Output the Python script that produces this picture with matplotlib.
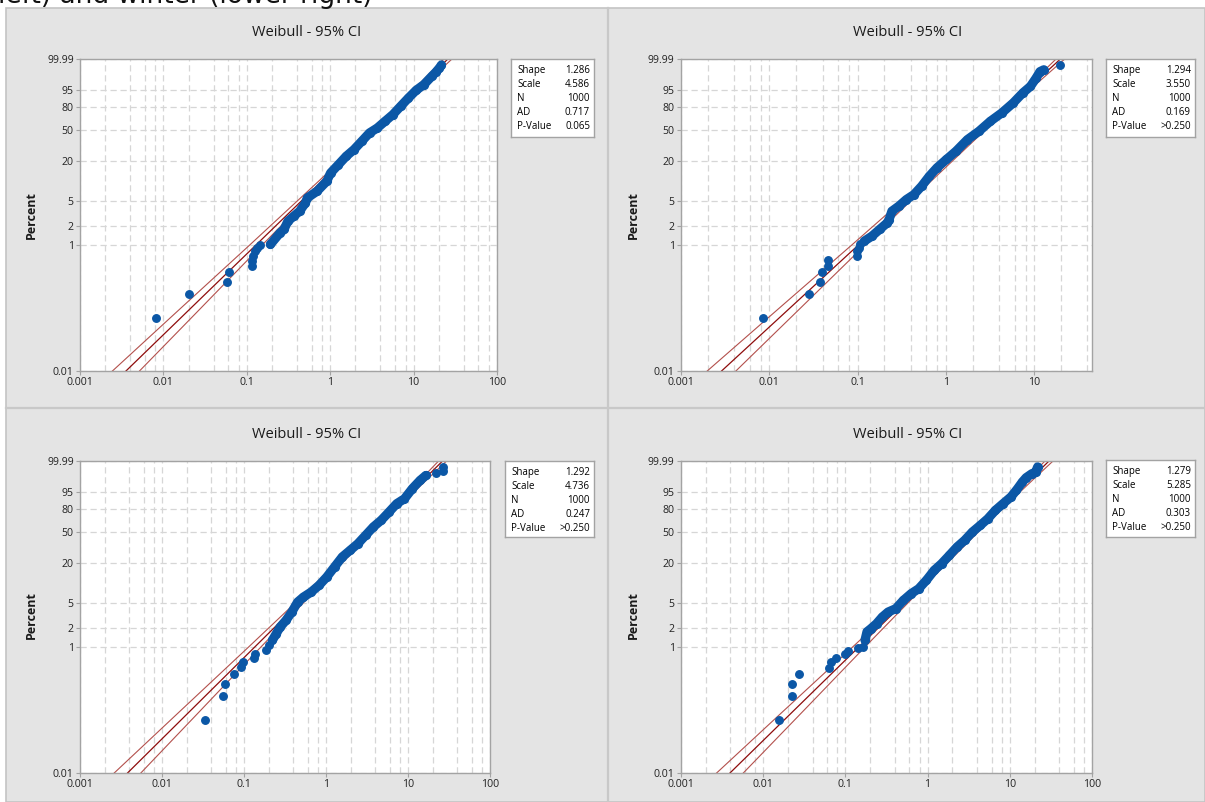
import numpy as np
import matplotlib
matplotlib.use("Agg")
import matplotlib.pyplot as plt
from matplotlib.patches import Rectangle
from matplotlib.lines import Line2D
from matplotlib.ticker import FixedLocator, FixedFormatter, LogLocator, NullLocator, NullFormatter

W, H = 1205, 802

# ---- data (x value, percent) ----
TL_OUT_X = [0.0081, 0.0204, 0.0577, 0.061, 0.115, 0.116, 0.118, 0.125, 0.132, 0.144]
TL_OUT_P = [0.07, 0.17, 0.26, 0.37, 0.47, 0.56, 0.67, 0.81, 0.91, 0.99]
TL_X = [0.192, 0.251, 0.279, 0.311, 0.366, 0.430, 0.505, 0.532, 0.696, 0.910, 1.01, 1.256,
        1.556, 1.93, 2.39, 2.96, 3.67, 4.55, 5.64, 6.99, 8.67, 10.7, 13.3, 16.5, 18.4, 20.4, 21.6]
TL_P = [1.03, 1.57, 1.77, 2.39, 2.87, 3.43, 4.63, 5.53, 7.00, 9.94, 13.2, 17.5, 23.0, 28.4,
        36.4, 45.9, 52.1, 61.0, 69.9, 80.4, 89.0, 94.6, 97.3, 99.24, 99.65, 99.87, 99.94]

TR_OUT_X = [0.0085, 0.0281, 0.0379, 0.0398, 0.0462, 0.0462, 0.0975, 0.0995, 0.103, 0.106, 19.5]
TR_OUT_P = [0.07, 0.17, 0.26, 0.37, 0.47, 0.58, 0.67, 0.81, 0.91, 1.03, 99.93]
TR_X = [0.119, 0.145, 0.177, 0.216, 0.227, 0.244, 0.292, 0.356, 0.434, 0.530, 0.647, 0.789,
        1.01, 1.30, 1.75, 2.36, 3.18, 4.29, 5.78, 7.41, 9.05, 10.5, 11.6, 12.8]
TR_P = [1.16, 1.39, 1.77, 2.25, 2.54, 3.43, 4.11, 5.21, 6.22, 8.36, 11.8, 15.7, 20.7, 27.0,
        38.2, 47.9, 61.0, 72.2, 84.2, 93.0, 96.6, 99.0, 99.7, 99.80]

BL_OUT_X = [0.0336, 0.0548, 0.0586, 0.0745, 0.0927, 0.098, 0.133, 0.136, 0.184, 0.199,
            21.7, 27.0, 27.0]
BL_OUT_P = [0.069, 0.17, 0.26, 0.37, 0.49, 0.58, 0.68, 0.79, 0.89, 1.07, 99.74, 99.85, 99.94]
BL_X = [0.222, 0.247, 0.276, 0.325, 0.383, 0.451, 0.531, 0.660, 0.822, 1.02, 1.27, 1.58,
        1.97, 2.45, 3.04, 3.79, 4.71, 5.86, 7.29, 9.06, 11.3, 14.0, 16.5]
BL_P = [1.29, 1.63, 2.08, 2.65, 3.58, 5.12, 6.11, 7.30, 9.23, 12.3, 17.3, 24.0, 29.5, 36.0,
        45.4, 56.2, 65.0, 75.8, 85.5, 90.1, 96.5, 98.9, 99.56]

BR_OUT_X = [0.0155, 0.0226, 0.0226, 0.0271, 0.0625, 0.0673, 0.0774, 0.098, 0.107, 0.143, 0.164]
BR_OUT_P = [0.069, 0.17, 0.26, 0.37, 0.47, 0.58, 0.67, 0.79, 0.87, 0.98, 1.01]
BR_X = [0.173, 0.183, 0.204, 0.239, 0.281, 0.331, 0.410, 0.507, 0.629, 0.780, 0.966, 1.20,
        1.48, 1.84, 2.28, 2.83, 3.51, 4.35, 5.39, 6.68, 8.28, 10.3, 12.0, 14.2, 15.8, 18.5,
        20.6, 21.8]
BR_P = [1.29, 1.75, 1.96, 2.35, 2.99, 3.58, 4.04, 5.43, 6.88, 8.21, 10.99, 15.4, 19.3, 25.2,
        32.6, 39.7, 49.6, 58.0, 67.0, 78.0, 85.5, 91.5, 95.7, 98.6, 99.33, 99.69, 99.78, 99.94]

# fitted parameters and goodness-of-fit table
SHAPE = [1.286, 1.294, 1.292, 1.279]
SCALE = [4.586, 3.550, 4.736, 5.285]
N_OBS = [1000, 1000, 1000, 1000]
AD = [0.717, 0.169, 0.247, 0.303]
P_VALUE = ["0.065", ">0.250", ">0.250", ">0.250"]
X_MAX = [100, 45, 100, 100]

# 95% CI half-width (decades) read at a few percent levels
CI_PCT = [0.005, 0.1, 1, 10, 50, 90, 99, 99.995]
CI_HALF = [0.175, 0.12, 0.075, 0.038, 0.022, 0.03, 0.038, 0.05]

Y_TICKS = [0.01, 1, 2, 5, 20, 50, 80, 95, 99.99]
Y_LABELS = ["0.01", "1", "2", "5", "20", "50", "80", "95", "99.99"]
X_TICKS = [0.001, 0.01, 0.1, 1, 10, 100]
X_LABELS = ["0.001", "0.01", "0.1", "1", "10", "100"]

BLUE = "#0b57a6"
FIT_RED = "#8e0c0c"
CI_RED = "#b3504c"
GRID = "#d6d6d6"
FRAME = "#a3a3a3"
FONT = "Open Sans"


def weib_fwd(p):
    p = np.asarray(p, dtype=float)
    with np.errstate(all="ignore"):
        q = np.clip(p / 100.0, 1e-12, 1 - 1e-12)
        return np.log(-np.log1p(-q))


def weib_inv(y):
    y = np.asarray(y, dtype=float)
    with np.errstate(all="ignore"):
        return 100.0 * -np.expm1(-np.exp(y))


def rect(l, t, r, b):
    return [l / W, 1 - b / H, (r - l) / W, (b - t) / H]


def draw_panel(fig, k, ax_px, box_px, title_px, label_px, out_x, out_p, cx, cp):
    ax = fig.add_axes(rect(*ax_px))
    ax.set_facecolor("white")
    ax.set_xscale("log")
    ax.set_yscale("function", functions=(weib_fwd, weib_inv))
    ax.set_xlim(0.001, X_MAX[k])
    ax.set_ylim(0.01, 99.99)

    xt = [v for v in X_TICKS if v <= X_MAX[k]]
    ax.xaxis.set_major_locator(FixedLocator(xt))
    ax.xaxis.set_major_formatter(FixedFormatter(X_LABELS[:len(xt)]))
    ax.xaxis.set_minor_locator(LogLocator(base=10, subs=(2, 4, 6, 8)))
    ax.xaxis.set_minor_formatter(NullFormatter())
    ax.yaxis.set_major_locator(FixedLocator(Y_TICKS))
    ax.yaxis.set_major_formatter(FixedFormatter(Y_LABELS))
    ax.yaxis.set_minor_locator(NullLocator())

    dash = (0, (5, 3))
    ax.grid(which="major", axis="both", color=GRID, lw=0.9, ls=dash)
    ax.grid(which="minor", axis="x", color=GRID, lw=0.9, ls=dash)
    ax.set_axisbelow(True)
    ax.tick_params(which="major", length=3, width=0.8, color=FRAME, labelsize=7.6,
                   pad=1.5, labelcolor="#222222")
    ax.tick_params(which="minor", length=0)
    for lab in ax.get_xticklabels() + ax.get_yticklabels():
        lab.set_fontfamily(FONT)
    for sp in ax.spines.values():
        sp.set_color(FRAME)
        sp.set_linewidth(1.0)

    # fitted line and confidence band
    pct = np.array(CI_PCT)
    fit_x = SCALE[k] * (-np.log1p(-pct / 100.0)) ** (1.0 / SHAPE[k])
    hw = 10.0 ** np.array(CI_HALF)
    ax.plot(fit_x / hw, pct, color=CI_RED, lw=0.8, zorder=2)
    ax.plot(fit_x * hw, pct, color=CI_RED, lw=0.8, zorder=2)
    ax.plot(fit_x, pct, color=FIT_RED, lw=0.9, zorder=2)

    # data points
    ax.plot(cx, cp, color=BLUE, lw=6.6, solid_capstyle="round",
            solid_joinstyle="round", zorder=3)
    ax.plot(cx, cp, "o", ms=5.6, color=BLUE, zorder=3)
    ax.plot(out_x, out_p, "o", ms=5.4, color=BLUE, ls="none", zorder=3)

    fig.text(title_px[0] / W, 1 - title_px[1] / H, "Weibull - 95% CI", ha="center",
             va="center", fontsize=10.5, family=FONT, color="#1a1a1a")
    fig.text(label_px[0] / W, 1 - label_px[1] / H, "Percent", ha="center", va="center",
             rotation=90, fontsize=9, fontweight="bold", family=FONT, color="#1a1a1a")

    # summary table
    bx = fig.add_axes(rect(*box_px))
    bx.set_facecolor("white")
    bx.set_xticks([])
    bx.set_yticks([])
    for sp in bx.spines.values():
        sp.set_color(FRAME)
        sp.set_linewidth(1.0)
    bw = box_px[2] - box_px[0]
    bh = box_px[3] - box_px[1]
    names = ["Shape", "Scale", "N", "AD", "P-Value"]
    vals = [f"{SHAPE[k]:.3f}", f"{SCALE[k]:.3f}", f"{N_OBS[k]}", f"{AD[k]:.3f}", P_VALUE[k]]
    for i, (nm, v) in enumerate(zip(names, vals)):
        yy = 1 - (11.6 + 14.0 * i) / bh
        bx.text(6 / bw, yy, nm, ha="left", va="center", fontsize=7.0, family=FONT)
        bx.text(1 - 4 / bw, yy, v, ha="right", va="center", fontsize=7.0, family=FONT)


fig = plt.figure(figsize=(W / 100, H / 100), dpi=100)
fig.patch.set_facecolor("white")

# gray panel background with dividers (kept behind the axes)
fig.patches.append(Rectangle((6 / W, 0), 1 - 6 / W, 1 - 8 / H, transform=fig.transFigure,
                             facecolor="#e4e4e4", edgecolor="#c4c4c4", lw=1.2, zorder=-10))
fig.lines.append(Line2D([608 / W, 608 / W], [0, 1 - 8 / H], transform=fig.transFigure,
                        color="#c8c8c8", lw=1.6, zorder=-5))
fig.lines.append(Line2D([6 / W, 1], [1 - 407.5 / H, 1 - 407.5 / H], transform=fig.transFigure,
                        color="#c8c8c8", lw=1.6, zorder=-5))

fig.text(-0.002, 1 - 3 / H, "left) and winter (lower right)", ha="left", va="baseline",
         fontsize=19, family="DejaVu Sans", color="#111111")

draw_panel(fig, 0, (80, 59, 497, 371), (511, 59, 594, 137), (307, 33), (31, 215),
           TL_OUT_X, TL_OUT_P, TL_X, TL_P)
draw_panel(fig, 1, (681, 59, 1092, 371), (1106, 59, 1195, 137), (908, 33), (633, 215),
           TR_OUT_X, TR_OUT_P, TR_X, TR_P)
draw_panel(fig, 2, (80, 461, 490, 773), (505, 461, 594, 537), (307, 434), (31, 615),
           BL_OUT_X, BL_OUT_P, BL_X, BL_P)
draw_panel(fig, 3, (681, 461, 1092, 773), (1106, 460, 1195, 537), (908, 434), (633, 615),
           BR_OUT_X, BR_OUT_P, BR_X, BR_P)

fig.savefig("out.png", dpi=100)
